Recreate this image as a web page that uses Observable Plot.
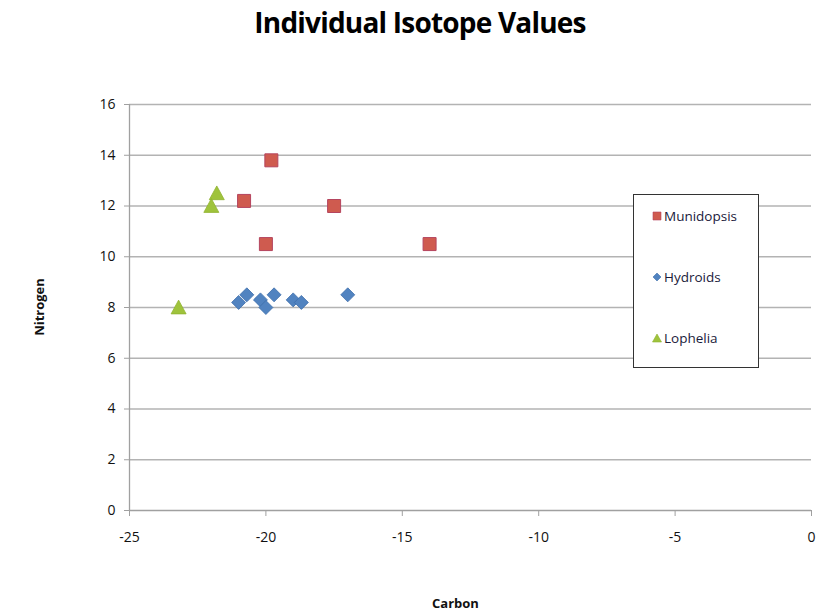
<!DOCTYPE html>
<html>
<head>
<meta charset="utf-8">
<script src="https://cdn.jsdelivr.net/npm/d3@7"></script>
<script src="https://cdn.jsdelivr.net/npm/@observablehq/plot@0.6"></script>
<style>
  html, body { margin: 0; padding: 0; background: #fff; }
  #wrap { position: relative; width: 830px; height: 616px; font-family: "Open Sans", "Liberation Sans", sans-serif; }
  #chart { position: absolute; left: 0; top: 0; }
  #title { position: absolute; left: 0; width: 840px; top: 3px; text-align: center; font-weight: bold; font-size: 28px; color: #000; letter-spacing: -0.8px; }
  .axlab { position: absolute; font-weight: bold; font-size: 13px; color: #111; }
  #legend { position: absolute; left: 633px; top: 194px; width: 124px; height: 172px; border: 1px solid #333; background: #fff; font-size: 13.5px; color: #1a1a3a; }
  .item { position: absolute; left: 18px; display: flex; align-items: center; gap: 2px; }
</style>
</head>
<body>
<div id="wrap">
  <div id="chart"></div>
  <div id="title">Individual Isotope Values</div>
  <div class="axlab" id="ylab" style="left:10px; top:298px; transform: rotate(-90deg); transform-origin: center;">Nitrogen</div>
  <div class="axlab" style="left:432px; top:594px;">Carbon</div>
  <div id="legend"></div>
</div>
<script>
// Data
const seriesNames = ["Munidopsis", "Hydroids", "Lophelia"];
const munidopsisCarbon = [-19.8, -20.8, -20.0, -17.5, -14.0];
const munidopsisNitrogen = [13.8, 12.2, 10.5, 12.0, 10.5];
const hydroidsCarbon = [-20.7, -21.0, -20.2, -20.0, -19.7, -19.0, -18.7, -17.0];
const hydroidsNitrogen = [8.5, 8.2, 8.3, 8.0, 8.5, 8.3, 8.2, 8.5];
const lopheliaCarbon = [-21.8, -22.0, -23.2];
const lopheliaNitrogen = [12.5, 12.0, 8.0];
const xTicks = [-25, -20, -15, -10, -5, 0];
const yTicks = [0, 2, 4, 6, 8, 10, 12, 14, 16];

const toRows = (xs, ys) => xs.map((x, i) => ({carbon: x, nitrogen: ys[i]}));
const munidopsis = toRows(munidopsisCarbon, munidopsisNitrogen);
const hydroids = toRows(hydroidsCarbon, hydroidsNitrogen);
const lophelia = toRows(lopheliaCarbon, lopheliaNitrogen);

const squareSym = {draw(ctx, size) { const s = Math.sqrt(size) / 2; ctx.moveTo(-s, -s); ctx.lineTo(s, -s); ctx.lineTo(s, s); ctx.lineTo(-s, s); ctx.closePath(); }};
const diamondSym = {draw(ctx, size) { const h = Math.sqrt(size) / 2; ctx.moveTo(0, -h); ctx.lineTo(h, 0); ctx.lineTo(0, h); ctx.lineTo(-h, 0); ctx.closePath(); }};
const triangleSym = {draw(ctx, size) { const w = Math.sqrt(size); const ht = w * 0.85; ctx.moveTo(0, -ht / 2 - 1); ctx.lineTo(w / 2, ht / 2); ctx.lineTo(-w / 2, ht / 2); ctx.closePath(); }};

const rFor = (side) => side / Math.sqrt(Math.PI);
const colors = {Munidopsis: "#cf5b4f", Hydroids: "#5183c0", Lophelia: "#9fc33c"};
const strokes = {Munidopsis: "#b5455e", Hydroids: "#3f6fab", Lophelia: "#8fb22f"};

const chart = Plot.plot({
  width: 830,
  height: 616,
  marginLeft: 129,
  marginRight: 19,
  marginTop: 104,
  marginBottom: 106,
  style: {fontFamily: "'Open Sans', 'Liberation Sans', sans-serif", fontSize: "13px", background: "#fff"},
  x: {domain: [-25, 0]},
  y: {domain: [0, 16]},
  marks: [
    Plot.gridY(yTicks.filter(d => d > 0), {stroke: "#b3b3b3", strokeOpacity: 1, strokeWidth: 1.3}),
    Plot.ruleX([-25], {stroke: "#a0a0a0", strokeWidth: 1.3}),
    Plot.ruleY([0], {stroke: "#a0a0a0", strokeWidth: 1.3}),
    Plot.axisY({ticks: yTicks, tickSize: 5, tickPadding: 9, stroke: "#a0a0a0", fill: "#111", label: null, tickFormat: d => String(d), fontSize: 14}),
    Plot.axisX({ticks: xTicks, tickSize: 6, tickPadding: 16, stroke: "#a0a0a0", fill: "#111", label: null, tickFormat: d => String(d), fontSize: 14}),
    Plot.dot(hydroids, {x: "carbon", y: "nitrogen", symbol: diamondSym, r: rFor(14), fill: colors.Hydroids, stroke: strokes.Hydroids, strokeWidth: 0.8}),
    Plot.dot(lophelia, {x: "carbon", y: "nitrogen", symbol: triangleSym, r: rFor(15), fill: colors.Lophelia, stroke: strokes.Lophelia, strokeWidth: 0.8}),
    Plot.dot(munidopsis, {x: "carbon", y: "nitrogen", symbol: squareSym, r: rFor(13), fill: colors.Munidopsis, stroke: strokes.Munidopsis, strokeWidth: 1})
  ]
});
document.getElementById("chart").appendChild(chart);

// Legend
const legendSyms = {Munidopsis: "M1,1H9V9H1Z", Hydroids: "M5,1L9,5L5,9L1,5Z", Lophelia: "M5,1L9.5,9H0.5Z"};
const legendTops = [12, 73, 134];
const legend = document.getElementById("legend");
seriesNames.forEach((name, i) => {
  const item = document.createElement("div");
  item.className = "item";
  item.style.top = legendTops[i] + "px";
  item.innerHTML = `<svg width="10" height="10" viewBox="0 0 10 10"><path d="${legendSyms[name]}" fill="${colors[name]}" stroke="${strokes[name]}" stroke-width="0.6"/></svg><span>${name}</span>`;
  legend.appendChild(item);
});
</script>
</body>
</html>
